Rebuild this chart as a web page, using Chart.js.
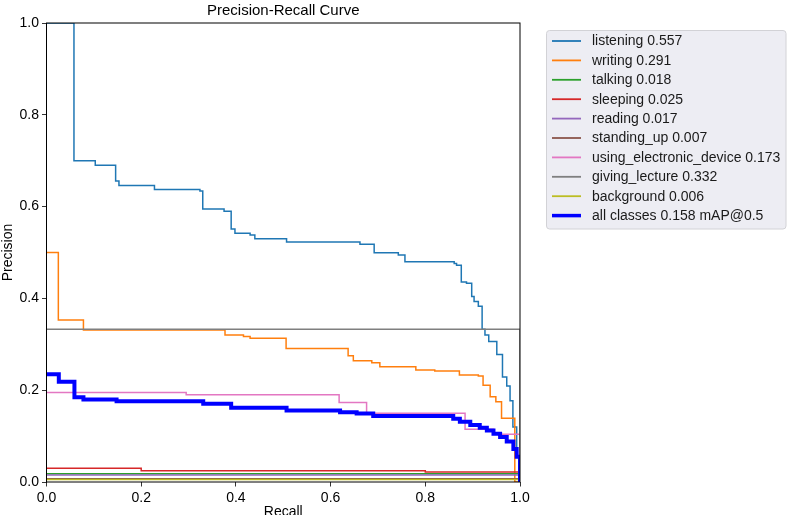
<!DOCTYPE html>
<html>
<head>
<meta charset="utf-8">
<script src="https://cdn.jsdelivr.net/npm/chart.js@4"></script>
<style>
  body { margin: 0; background: #fff; }
  #wrap { width: 796px; height: 515px; }
</style>
</head>
<body>
<div id="wrap"><canvas id="pr-chart" width="796" height="515"></canvas></div>
<script>
// per-class AP and names
var classNames = ["listening", "writing", "talking", "sleeping", "reading", "standing_up", "using_electronic_device", "giving_lecture", "background"];
var apValues = [0.557, 0.291, 0.018, 0.025, 0.017, 0.007, 0.173, 0.332, 0.006];
var mapAll = 0.158;
var classColors = ["#1f77b4", "#ff7f0e", "#2ca02c", "#d62728", "#9467bd", "#8c564b", "#e377c2", "#7f7f7f", "#bcbd22"];

// step curves: precision holds from recall[i] until recall[i+1]
var listeningRecall = [0, 0.058, 0.103, 0.146, 0.153, 0.228, 0.324, 0.330, 0.375, 0.390, 0.398, 0.430, 0.440, 0.507, 0.662, 0.692, 0.743, 0.757, 0.861, 0.866, 0.876, 0.887, 0.898, 0.903, 0.912, 0.920, 0.926, 0.934, 0.951, 0.963, 0.972, 0.979, 0.985, 0.993, 1.0];
var listeningPrecision = [1.0, 0.700, 0.690, 0.656, 0.646, 0.637, 0.634, 0.595, 0.590, 0.551, 0.542, 0.538, 0.530, 0.523, 0.518, 0.4996, 0.4946, 0.480, 0.476, 0.472, 0.436, 0.433, 0.404, 0.393, 0.383, 0.333, 0.320, 0.306, 0.278, 0.229, 0.209, 0.177, 0.12, 0.055, 0];

var writingRecall = [0, 0.025, 0.078, 0.377, 0.416, 0.430, 0.506, 0.637, 0.648, 0.687, 0.704, 0.780, 0.820, 0.872, 0.912, 0.922, 0.937, 0.949, 0.961, 0.989, 1.0];
var writingPrecision = [0.50, 0.353, 0.331, 0.320, 0.317, 0.313, 0.291, 0.275, 0.264, 0.260, 0.251, 0.244, 0.242, 0.233, 0.231, 0.211, 0.186, 0.175, 0.139, 0, 0];

var talkingRecall = [0, 1.0];
var talkingPrecision = [0.018, 0];

var sleepingRecall = [0, 0.2, 0.8, 1.0];
var sleepingPrecision = [0.0298, 0.0247, 0.0218, 0];

var readingRecall = [0, 1.0];
var readingPrecision = [0.015, 0];

var standingRecall = [0, 1.0];
var standingPrecision = [0.007, 0];

var deviceRecall = [0, 0.295, 0.618, 0.676, 0.884, 0.944, 1.0];
var devicePrecision = [0.195, 0.190, 0.173, 0.1496, 0.115, 0.104, 0];

var lectureRecall = [0, 1.0];
var lecturePrecision = [0.333, 0];

var backgroundRecall = [0, 1.0];
var backgroundPrecision = [0.0055, 0];

var allRecall = [0, 0.026, 0.059, 0.078, 0.148, 0.331, 0.390, 0.507, 0.620, 0.655, 0.690, 0.859, 0.873, 0.895, 0.915, 0.930, 0.944, 0.958, 0.972, 0.986, 0.993, 1.0];
var allPrecision = [0.2346, 0.2186, 0.1845, 0.180, 0.176, 0.1706, 0.162, 0.156, 0.152, 0.149, 0.144, 0.138, 0.131, 0.124, 0.118, 0.112, 0.105, 0.098, 0.088, 0.072, 0.055, 0];

var axisTicks = [0, 0.2, 0.4, 0.6, 0.8, 1.0];

var curves = [
  [listeningRecall, listeningPrecision],
  [writingRecall, writingPrecision],
  [talkingRecall, talkingPrecision],
  [sleepingRecall, sleepingPrecision],
  [readingRecall, readingPrecision],
  [standingRecall, standingPrecision],
  [deviceRecall, devicePrecision],
  [lectureRecall, lecturePrecision],
  [backgroundRecall, backgroundPrecision]
];

function toPoints(rec, prec) {
  return rec.map(function (r, i) { return { x: r, y: prec[i] }; });
}

var datasets = curves.map(function (c, i) {
  return {
    label: classNames[i] + " " + apValues[i].toFixed(3),
    data: toPoints(c[0], c[1]),
    borderColor: classColors[i],
    borderWidth: 1.5,
    order: -i
  };
});
datasets.push({
  label: "all classes " + mapAll.toFixed(3) + " mAP@0.5",
  data: toPoints(allRecall, allPrecision),
  borderColor: "#0000ff",
  borderWidth: 4,
  order: -20
});

var FONT = "'Liberation Sans', Arial, Helvetica, sans-serif";

// matplotlib-like frame around the plot area
var framePlugin = {
  id: "frame",
  afterDatasetsDraw: function (chart) {
    var a = chart.chartArea, ctx = chart.ctx;
    ctx.save();
    ctx.strokeStyle = "#000";
    ctx.lineWidth = 1;
    ctx.strokeRect(a.left, a.top, a.right - a.left, a.bottom - a.top);
    ctx.restore();
  }
};

// legend box placed outside the axes, right side
var boxLegend = {
  id: "boxLegend",
  afterDraw: function (chart) {
    var ctx = chart.ctx;
    var x = 546.5, y = 30.5, w = 239.5, h = 198.5;
    ctx.save();
    ctx.beginPath();
    ctx.roundRect(x, y, w, h, 3);
    ctx.fillStyle = "#ededf3";
    ctx.fill();
    ctx.strokeStyle = "#d2d2d6";
    ctx.lineWidth = 1;
    ctx.stroke();
    ctx.font = "14px " + FONT;
    ctx.textBaseline = "middle";
    chart.data.datasets.forEach(function (ds, i) {
      var ly = 41 + i * 19.4;
      ctx.beginPath();
      ctx.moveTo(552, ly);
      ctx.lineTo(581, ly);
      ctx.strokeStyle = ds.borderColor;
      ctx.lineWidth = ds.borderWidth === 4 ? 3.5 : 1.8;
      ctx.stroke();
      ctx.fillStyle = "#1a1a1a";
      ctx.fillText(ds.label, 592, ly + 0.5);
    });
    ctx.restore();
  }
};

var ctx = document.getElementById("pr-chart").getContext("2d");
var chart = new Chart(ctx, {
  type: "line",
  data: { datasets: datasets },
  options: {
    responsive: false,
    animation: false,
    layout: { padding: { left: 0, right: 276, top: 0, bottom: 0 } },
    elements: {
      point: { radius: 0 },
      line: { stepped: true, tension: 0, fill: false }
    },
    plugins: {
      legend: { display: false },
      tooltip: { enabled: false },
      title: {
        display: true,
        text: "Precision-Recall Curve",
        fullSize: false,
        color: "#000",
        font: { family: FONT, size: 15, weight: "normal" },
        padding: { top: 2, bottom: 3 }
      }
    },
    scales: {
      x: {
        type: "linear",
        min: 0,
        max: 1,
        afterFit: function (s) { s.height = 33; },
        afterBuildTicks: function (s) { s.ticks = axisTicks.map(function (v) { return { value: v }; }); },
        ticks: {
          color: "#000",
          padding: 3,
          maxRotation: 0,
          font: { family: FONT, size: 14 },
          callback: function (v) { return Number(v).toFixed(1); }
        },
        grid: { display: true, drawOnChartArea: false, drawTicks: true, tickLength: 4.5, color: "#000", lineWidth: 0.8 },
        border: { display: false },
        title: {
          display: true,
          text: "Recall",
          color: "#000",
          font: { family: FONT, size: 14 },
          padding: { top: 0, bottom: -6 }
        }
      },
      y: {
        type: "linear",
        min: 0,
        max: 1,
        afterFit: function (s) { s.width = 46.5; },
        afterBuildTicks: function (s) { s.ticks = axisTicks.map(function (v) { return { value: v }; }); },
        ticks: {
          color: "#000",
          padding: 3,
          font: { family: FONT, size: 14 },
          callback: function (v) { return Number(v).toFixed(1); }
        },
        grid: { display: true, drawOnChartArea: false, drawTicks: true, tickLength: 4.5, color: "#000", lineWidth: 0.8 },
        border: { display: false },
        title: {
          display: true,
          text: "Precision",
          color: "#000",
          font: { family: FONT, size: 14 },
          padding: { top: 0, bottom: 0 }
        }
      }
    }
  },
  plugins: [framePlugin, boxLegend]
});
</script>
</body>
</html>
